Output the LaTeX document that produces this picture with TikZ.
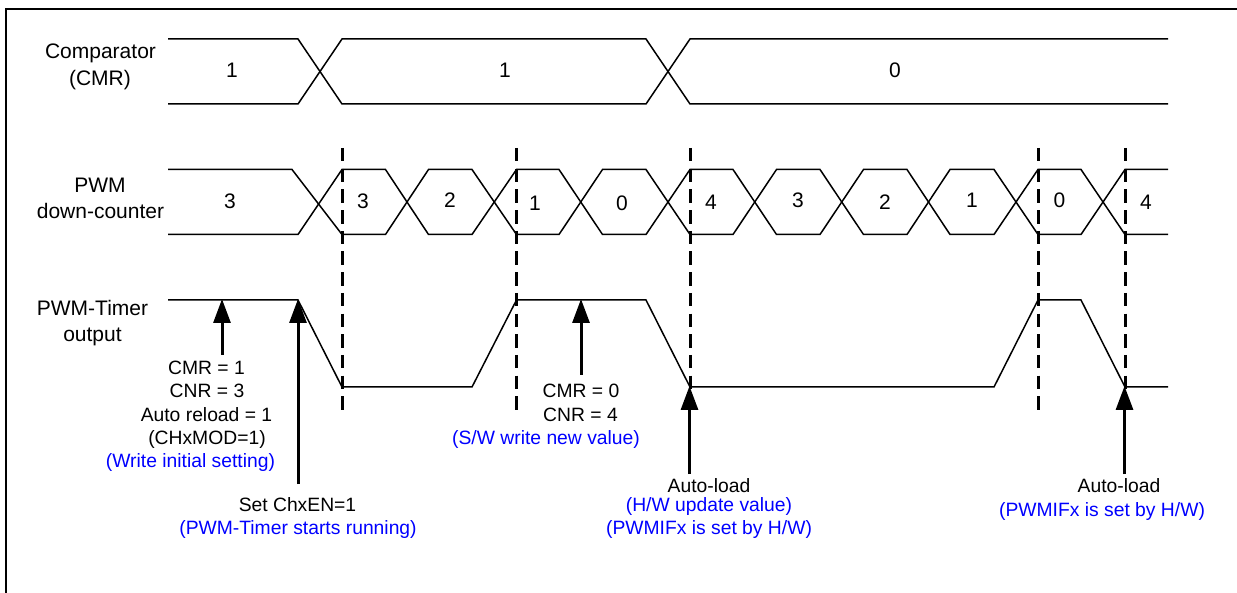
\documentclass[tikz,border=0pt]{standalone}
\usepackage{fontspec}
\setmainfont{Liberation Sans}
\usetikzlibrary{arrows.meta}
\tikzset{
  sig/.style={line width=1.5pt,line join=miter},
  guide/.style={line width=2.6pt,dash pattern=on 13.5pt off 7.2pt},
  frameline/.style={line width=2.2pt},
  pointer/.style={line width=3pt,-{Triangle[width=17pt,length=24pt]},shorten >=-1pt},
  lab/.style={anchor=base,inner sep=0pt,font=\fontsize{21}{24}\selectfont},
  val/.style={anchor=base,inner sep=0pt,font=\fontsize{21}{24}\selectfont},
  note/.style={anchor=base,inner sep=0pt,font=\fontsize{19.3}{23}\selectfont},
  bluenote/.style={note,text=blue}
}
\begin{document}
\begin{tikzpicture}[x=1pt,y=-1pt]
\useasboundingbox (0,0) rectangle (1237,593);
\draw[frameline] (6,593) -- (6,9) -- (1237,9);
% comparator bus
\draw[sig] (168,39) -- (298,39) -- (342,104) -- (646,104) -- (690,39) -- (1168,39);
\draw[sig] (168,104) -- (298,104) -- (342,39) -- (646,39) -- (690,104) -- (1168,104);
% counter bus
\draw[sig] (168,169.5) -- (292,169.5) -- (342,234.5) -- (385.5,234.5) -- (428.5,169.5) -- (472,169.5) -- (516.5,234.5) -- (559,234.5) -- (602.5,169.5) -- (646,169.5) -- (690,234.5) -- (733,234.5) -- (776.5,169.5) -- (820,169.5) -- (863.5,234.5) -- (907,234.5) -- (950,169.5) -- (994,169.5) -- (1038,234.5) -- (1081,234.5) -- (1125,169.5) -- (1168,169.5);
\draw[sig] (168,234.5) -- (298,234.5) -- (342,169.5) -- (385.5,169.5) -- (428.5,234.5) -- (472,234.5) -- (516.5,169.5) -- (559,169.5) -- (602.5,234.5) -- (646,234.5) -- (690,169.5) -- (733,169.5) -- (776.5,234.5) -- (820,234.5) -- (863.5,169.5) -- (907,169.5) -- (950,234.5) -- (994,234.5) -- (1038,169.5) -- (1081,169.5) -- (1125,234.5) -- (1168,234.5);
% timer output
\draw[sig] (168,300) -- (298,300) -- (342,387) -- (472,387) -- (516.5,300) -- (646,300) -- (690,387) -- (994,387) -- (1038,300) -- (1081,300) -- (1125,387) -- (1168,387);
% guides
\foreach \gx [count=\gi] in {342.5,516.5,690.5,1038.5,1125.5}{
  \coordinate (gt\gi) at (\gx,148);
  \coordinate (gb\gi) at (\gx,410);
  \draw[guide] (gt\gi) -- (gb\gi);
}
% labels
\node[lab] (l1) at (100.5,59) {Comparator};
\node[lab] (l2) at (100,86) {(CMR)};
\node[lab] (l3) at (100,192.5) {PWM};
\node[lab] (l4) at (100.5,218.5) {down-counter};
\node[lab] (l5) at (92.5,316) {PWM-Timer};
\node[lab] (l6) at (92.5,342) {output};
% values
\node[val] (c1) at (232,78) {1};
\node[val] (c2) at (505,78) {1};
\node[val] (c3) at (895,78) {0};
\node[val] (n1) at (230,209) {3};
\node[val] (n2) at (363,209) {3};
\node[val] (n3) at (450,208) {2};
\node[val] (n4) at (535,211) {1};
\node[val] (n5) at (622,211) {0};
\node[val] (n6) at (711,209.5) {4};
\node[val] (n7) at (798,208) {3};
\node[val] (n8) at (885,209.5) {2};
\node[val] (n9) at (972,208) {1};
\node[val] (n10) at (1059.5,208) {0};
\node[val] (n11) at (1146,209.5) {4};
% pointers
\coordinate (a1s) at (222,355); \coordinate (a1e) at (222,300);
\coordinate (a2s) at (298,484); \coordinate (a2e) at (298,300);
\coordinate (a3s) at (581,375); \coordinate (a3e) at (581,300);
\coordinate (a4s) at (689.5,474); \coordinate (a4e) at (689.5,387);
\coordinate (a5s) at (1124.5,474); \coordinate (a5e) at (1124.5,387);
\foreach \a in {a1,a2,a3,a4,a5} \draw[pointer] (\a s) -- (\a e);
% notes
\node[note] (t1) at (206.5,375) {CMR = 1};
\node[note] (t2) at (207,398) {CNR = 3};
\node[note] (t3) at (206.5,421) {Auto reload = 1};
\node[note] (t4) at (207,444) {(CHxMOD=1)};
\node[bluenote] (t5) at (190.5,467) {(Write initial setting)};
\node[note] (t6) at (297.5,511) {Set ChxEN=1};
\node[bluenote] (t7) at (298,534) {(PWM-Timer starts running)};
\node[note] (t8) at (581,398) {CMR = 0};
\node[note] (t9) at (580.5,421) {CNR = 4};
\node[bluenote] (t10) at (546,444) {(S/W write new value)};
\node[note] (t11) at (709,492) {Auto-load};
\node[bluenote] (t12) at (709,511) {(H/W update value)};
\node[bluenote] (t13) at (709,534) {(PWMIFx is set by H/W)};
\node[note] (t14) at (1119,492) {Auto-load};
\node[bluenote] (t15) at (1102,516) {(PWMIFx is set by H/W)};
\end{tikzpicture}
\end{document}
